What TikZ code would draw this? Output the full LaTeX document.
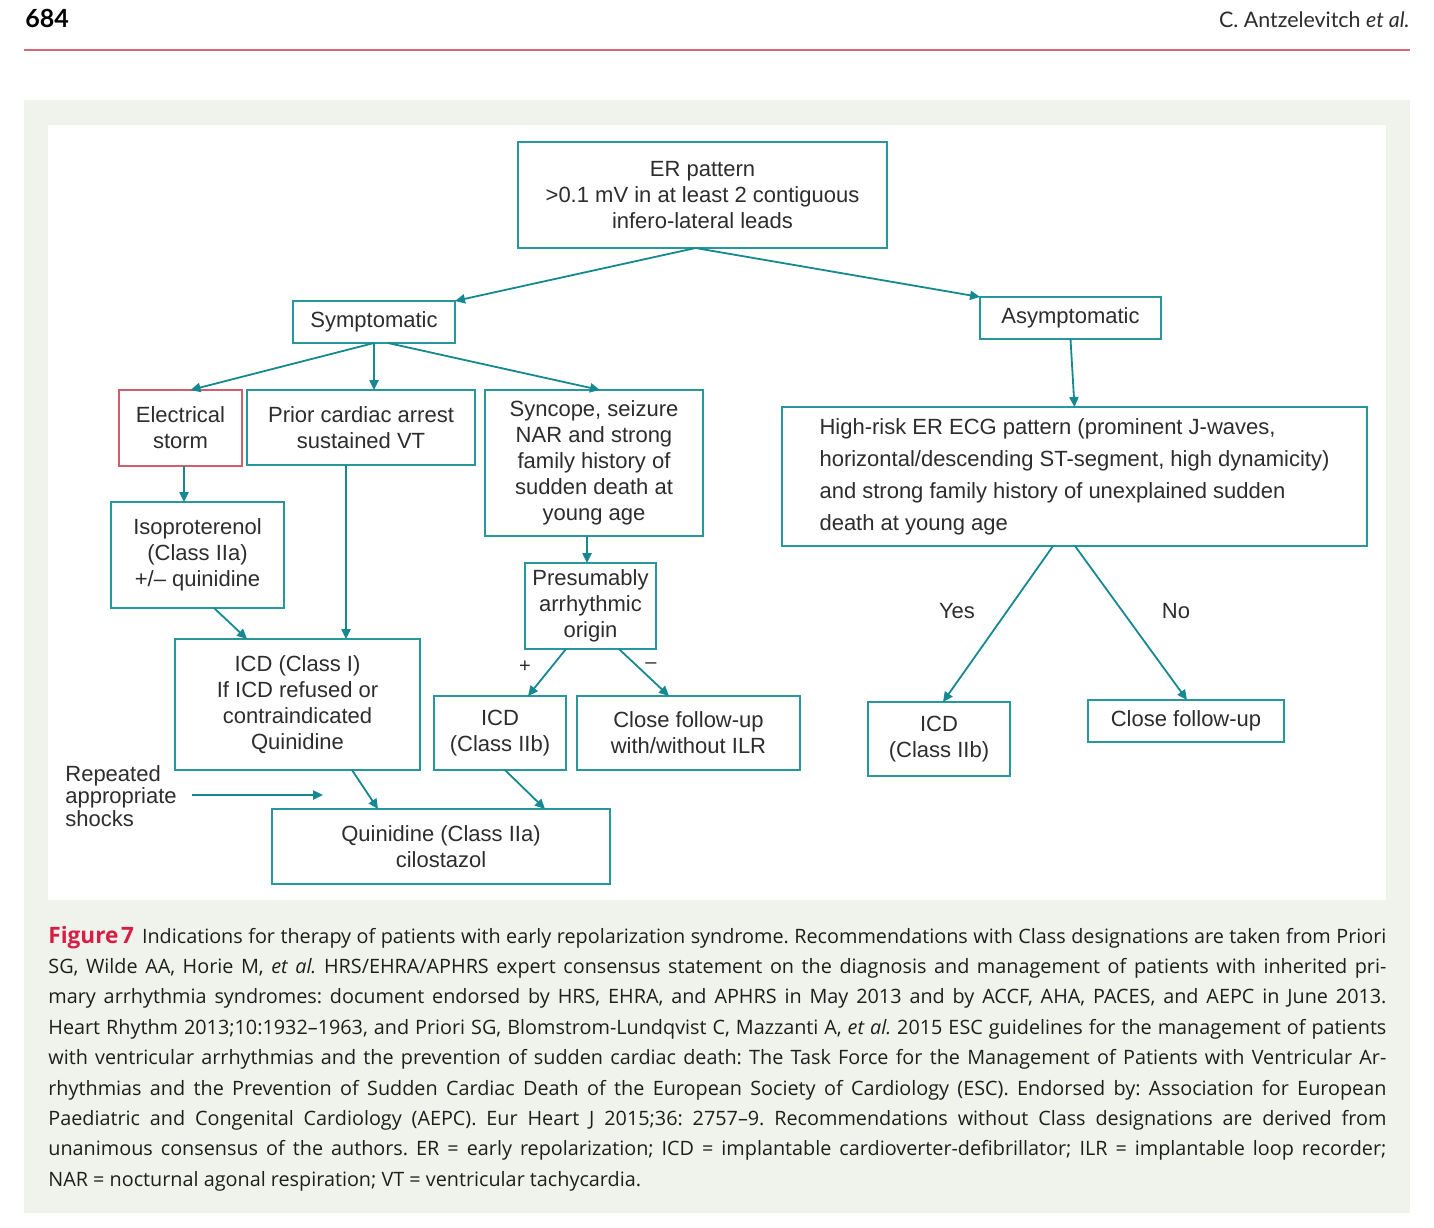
\documentclass[tikz,border=0pt]{standalone}
\usepackage{fontspec}
\setmainfont{Liberation Sans}
\newfontfamily\capfont{Open Sans}
\newfontfamily\hdfont{Lato}
\usetikzlibrary{arrows.meta,calc}
\definecolor{teal1}{RGB}{40,150,157}
\definecolor{arrowc}{RGB}{22,137,144}
\definecolor{redbox}{RGB}{208,95,110}
\definecolor{txt}{RGB}{45,45,45}
\definecolor{capc}{RGB}{30,30,30}
\definecolor{panel}{RGB}{240,243,235}
\definecolor{rulec}{RGB}{214,105,120}
\definecolor{figred}{RGB}{215,30,70}
\begin{document}
\begin{tikzpicture}[x=0.5pt,y=-0.5pt,
  box/.style={draw=teal1,line width=0.9pt,inner sep=0pt,outer sep=0pt,align=center,text=txt,font=\fontsize{11}{13}\selectfont},
  conn/.style={draw=arrowc,line width=0.9pt,-{Triangle[length=5pt,width=4.6pt]}},
  lbl/.style={text=txt,font=\fontsize{11}{13}\selectfont,inner sep=0pt}]
\useasboundingbox (0,0) rectangle (1434,1227);
\fill[white] (0,0) rectangle (1434,1227);
\fill[panel] (24,100) rectangle (1410,1213);
\fill[white] (48,125) rectangle (1386,900);
\draw[rulec,line width=1.2pt] (24,50) -- (1410,50);
\node[anchor=base west,inner sep=0pt,text=black,font=\hdfont\bfseries\fontsize{12.5}{14}\selectfont] (pg) at (25,27) {684};
\node[anchor=base east,inner sep=0pt,text=txt,font=\hdfont\fontsize{10.7}{12}\selectfont] (auth) at (1410,27) {C. Antzelevitch \textit{et al.}};

% boxes
\node[box,minimum width=184.5pt,minimum height=53pt] (er) at (702.5,195) {ER pattern\\>0.1 mV in at least 2 contiguous\\infero-lateral leads};
\node[box,minimum width=81pt,minimum height=21pt] (sym) at (374,322) {Symptomatic};
\node[box,minimum width=90.5pt,minimum height=21pt] (asym) at (1070.5,318) {Asymptomatic};
\node[box,draw=redbox,minimum width=61.5pt,minimum height=38pt] (es) at (180.5,428) {Electrical\\storm};
\node[box,minimum width=114pt,minimum height=37.5pt] (prior) at (361,427.5) {Prior cardiac arrest\\sustained VT};
\node[box,minimum width=109pt,minimum height=73pt] (sync) at (594,463) {Syncope, seizure\\NAR and strong\\family history of\\sudden death at\\young age};
\node[box,align=left,font=\fontsize{11}{16}\selectfont,minimum width=292.5pt,minimum height=69.5pt] (hr) at (1074.5,476.5) {High-risk ER ECG pattern (prominent J-waves,\\horizontal/descending ST-segment, high dynamicity)\\and strong family history of unexplained sudden\\death at young age};
\node[box,minimum width=86.5pt,minimum height=53pt] (iso) at (197.5,555) {Isoproterenol\\(Class IIa)\\+/– quinidine};
\node[box,minimum width=65.5pt,minimum height=43pt] (pres) at (590.5,606) {Presumably\\arrhythmic\\origin};
\node[box,minimum width=122.5pt,minimum height=65.5pt] (icd1) at (297.5,704.5) {ICD (Class I)\\If ICD refused or\\contraindicated\\Quinidine};
\node[box,minimum width=66pt,minimum height=37pt] (icdm) at (500,733) {ICD\\(Class IIb)};
\node[box,minimum width=111.5pt,minimum height=37pt] (closem) at (688.5,733) {Close follow-up\\with/without ILR};
\node[box,minimum width=71pt,minimum height=37pt] (icdr) at (939,739) {ICD\\(Class IIb)};
\node[box,minimum width=98pt,minimum height=21pt] (closer) at (1186,721) {Close follow-up};
\node[box,minimum width=169pt,minimum height=37.5pt] (quin) at (441,846.5) {Quinidine (Class IIa)\\cilostazol};

% labels
\node[lbl,anchor=west,align=left,font=\fontsize{11}{11.25}\selectfont] (rep) at (65,796) {Repeated\\appropriate\\shocks};
\node[lbl] (yes) at (957,611) {Yes};
\node[lbl] (no) at (1176,611) {No};
\node[lbl,font=\fontsize{10}{12}\selectfont] (plus) at (525,667) {+};
\node[lbl,font=\fontsize{10}{12}\selectfont] (minus) at (651,666) {–};

% connectors
\draw[conn] ($(er.south)+(-7,0)$) -- (sym.north east);
\draw[conn] ($(er.south)+(-7,0)$) -- (asym.north west);
\draw[conn] (sym.south) -- ($(es.north)+(10,0)$);
\draw[conn] (sym.south) -- (sym.south |- prior.north);
\draw[conn] ($(sym.south)+(14,0)$) -- ($(sync.north)+(6,0)$);
\draw[conn] (asym.south) -- (hr.north);
\draw[conn] ($(es.south)+(3.5,0)$) -- ($(iso.north)+(-13.5,0)$);
\draw[conn] ($(prior.south)+(-15,0)$) -- ($(icd1.north)+(48.5,0)$);
\draw[conn] ($(iso.south)+(16.5,0)$) -- ($(icd1.north)+(-50.5,0)$);
\draw[conn] ($(sync.south)+(-7,0)$) -- ($(pres.north)+(-3.5,0)$);
\draw[conn] ($(pres.south)+(-24.5,0)$) -- ($(icdm.north)+(28,0)$);
\draw[conn] ($(pres.south)+(28.5,0)$) -- ($(closem.north)+(-19.5,0)$);
\draw[conn] ($(hr.south)+(-21.5,0)$) -- ($(icdr.north)+(4,0)$);
\draw[conn] ($(hr.south)+(0.5,0)$) -- ($(closer.north)+(1,0)$);
\draw[conn] ($(icd1.south)+(54.5,0)$) -- ($(quin.north)+(-63,0)$);
\draw[conn] ($(icdm.south)+(5,0)$) -- ($(quin.north)+(104,0)$);
\coordinate (rs1) at (192,795);
\coordinate (rs2) at (323,795);
\draw[conn] (rs1) -- (rs2);

% caption
\node[anchor=base west,inner sep=0pt,text=capc] (cap) at (48,943) {\parbox[t]{669pt}{\capfont\fontsize{9.9}{15.2}\selectfont\tolerance=10000\hyphenpenalty=10000\frenchspacing\spaceskip=0.26em plus 0.5em minus 0.13em
\leavevmode{\color{figred}\bfseries\fontsize{11.3}{15.2}\selectfont Figure\kern0.12em7}\hspace{0.4em}Indications for therapy of patients with early repolarization syndrome. Recommendations with Class designations are taken from Priori\linebreak
SG, Wilde AA, Horie M, \textit{et al.} HRS/EHRA/APHRS expert consensus statement on the diagnosis and management of patients with inherited pri-\linebreak
mary arrhythmia syndromes: document endorsed by HRS, EHRA, and APHRS in May 2013 and by ACCF, AHA, PACES, and AEPC in June 2013.\linebreak
Heart Rhythm 2013;10:1932–1963, and Priori SG, Blomstrom-Lundqvist C, Mazzanti A, \textit{et al.} 2015 ESC guidelines for the management of patients\linebreak
with ventricular arrhythmias and the prevention of sudden cardiac death: The Task Force for the Management of Patients with Ventricular Ar-\linebreak
rhythmias and the Prevention of Sudden Cardiac Death of the European Society of Cardiology (ESC). Endorsed by: Association for European\linebreak
Paediatric and Congenital Cardiology (AEPC). Eur Heart J 2015;36: 2757–9. Recommendations without Class designations are derived from\linebreak
unanimous consensus of the authors. ER = early repolarization; ICD = implantable cardioverter-defibrillator; ILR = implantable loop recorder;\linebreak
NAR = nocturnal agonal respiration; VT = ventricular tachycardia.}};
\end{tikzpicture}
\end{document}
